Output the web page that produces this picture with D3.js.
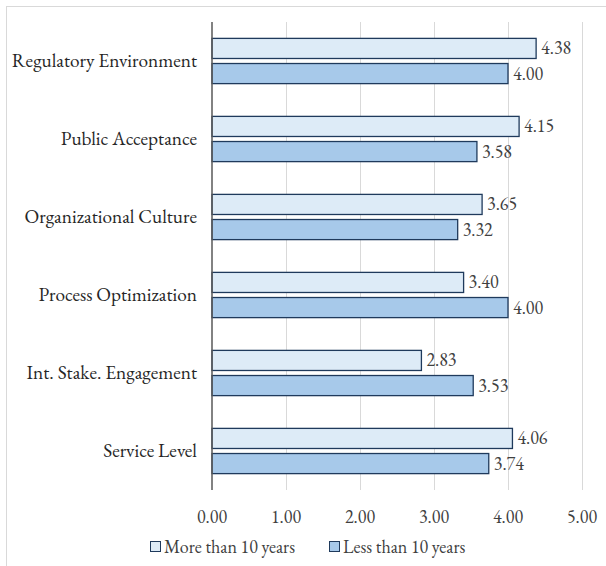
<!DOCTYPE html>
<html>
<head>
<meta charset="utf-8">
<script src="https://cdn.jsdelivr.net/npm/d3@7"></script>
<style>
  body { margin: 0; background: #fff; }
  svg { display: block; }
</style>
</head>
<body>
<svg id="chart" width="606" height="566"></svg>
<script>
const categories = ["Regulatory Environment", "Public Acceptance", "Organizational Culture",
  "Process Optimization", "Int. Stake. Engagement", "Service Level"];
const seriesNames = ["More than 10 years", "Less than 10 years"];
const moreThan10 = [4.38, 4.15, 3.65, 3.40, 2.83, 4.06];
const lessThan10 = [4.00, 3.58, 3.32, 4.00, 3.53, 3.74];
const xTicks = [0, 1, 2, 3, 4, 5];

const fills = ["#DDEBF7", "#A7C9EA"];
const strokeCol = "#1F3A5C";
const font = "Garamond, 'EB Garamond', 'Liberation Serif', 'DejaVu Serif', serif";
const fs = 18;

const svg = d3.select("#chart");

// outer chart border (only top/left visible in frame)
svg.append("rect")
  .attr("x", 6.5).attr("y", 6.5)
  .attr("width", 620).attr("height", 600)
  .attr("fill", "none").attr("stroke", "#D9D9D9");

const plotL = 212, plotR = 582, plotT = 22, plotB = 490;

const x = d3.scaleLinear().domain([0, 5]).range([plotL, plotR]);
const y = d3.scaleBand().domain(categories).range([plotT, plotB]).paddingInner(0.42).paddingOuter(0.21);
const sub = d3.scaleBand().domain(seriesNames).range([0, y.bandwidth()]).paddingInner(0.2);

// gridlines
svg.append("g").selectAll("line").data(xTicks.slice(1)).join("line")
  .attr("x1", d => x(d) + 0.5).attr("x2", d => x(d) + 0.5)
  .attr("y1", plotT).attr("y2", plotB)
  .attr("stroke", "#D9D9D9").attr("stroke-width", 1);

const rows = categories.map((c, i) => ({ cat: c, vals: [moreThan10[i], lessThan10[i]] }));

const groups = svg.append("g").selectAll("g").data(rows).join("g")
  .attr("transform", d => `translate(0,${y(d.cat)})`);

groups.selectAll("rect").data(d => d.vals.map((v, j) => ({ v, s: seriesNames[j], j }))).join("rect")
  .attr("x", x(0))
  .attr("y", d => sub(d.s))
  .attr("width", d => x(d.v) - x(0))
  .attr("height", sub.bandwidth())
  .attr("fill", d => fills[d.j])
  .attr("stroke", strokeCol).attr("stroke-width", 1.3);

groups.selectAll("text").data(d => d.vals.map((v, j) => ({ v, s: seriesNames[j] }))).join("text")
  .attr("x", d => x(d.v) + 5)
  .attr("y", d => sub(d.s) + sub.bandwidth() / 2)
  .attr("dy", "0.33em")
  .attr("font-family", font).attr("font-size", fs).attr("fill", "#404040")
  .text(d => d.v.toFixed(2));

// category labels
svg.append("g").selectAll("text").data(categories).join("text")
  .attr("x", 197)
  .attr("y", d => y(d) + y.bandwidth() / 2)
  .attr("dy", "0.33em")
  .attr("text-anchor", "end")
  .attr("font-family", font).attr("font-size", 19.3).attr("fill", "#262626")
  .text(d => d);

// vertical axis line
svg.append("line")
  .attr("x1", x(0)).attr("x2", x(0))
  .attr("y1", plotT).attr("y2", plotB)
  .attr("stroke", "#595959").attr("stroke-width", 1.5);

// x tick labels
svg.append("g").selectAll("text").data(xTicks).join("text")
  .attr("x", d => x(d))
  .attr("y", 517)
  .attr("dy", "0.33em")
  .attr("text-anchor", "middle")
  .attr("font-family", font).attr("font-size", fs).attr("fill", "#404040")
  .text(d => d.toFixed(2));

// legend
const legendX = [150, 329];
const leg = svg.append("g").selectAll("g").data(seriesNames).join("g")
  .attr("transform", (d, i) => `translate(${legendX[i]},547)`);
leg.append("rect")
  .attr("x", 0.5).attr("y", -5.5).attr("width", 10).attr("height", 10)
  .attr("fill", (d, i) => fills[i]).attr("stroke", strokeCol).attr("stroke-width", 1);
leg.append("text")
  .attr("x", 14).attr("y", 0).attr("dy", "0.33em")
  .attr("font-family", font).attr("font-size", fs).attr("fill", "#404040")
  .text(d => d);
</script>
</body>
</html>
